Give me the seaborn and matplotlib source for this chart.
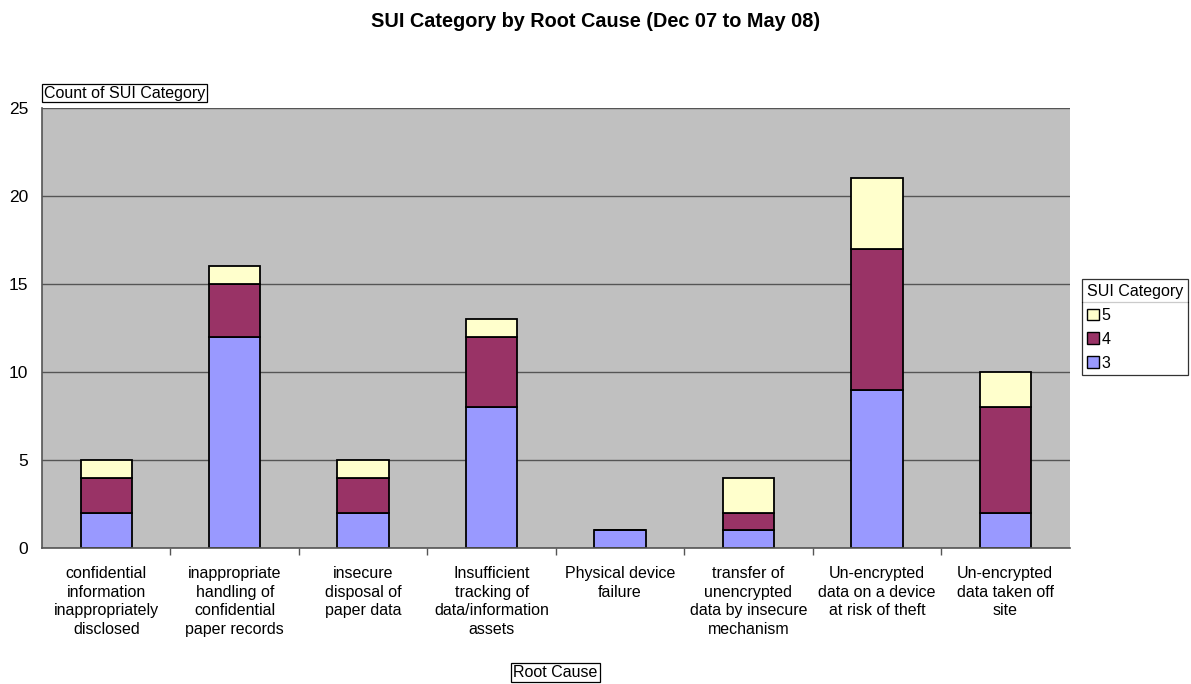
import matplotlib
matplotlib.use("Agg")
import matplotlib.pyplot as plt
from matplotlib.patches import Patch
from matplotlib.lines import Line2D
import numpy as np
import pandas as pd
import seaborn as sns

# Root causes (x categories) and stacked counts per SUI category
root_causes = [
    "confidential\ninformation\ninappropriately\ndisclosed",
    "inappropriate\nhandling of\nconfidential\npaper records",
    "insecure\ndisposal of\npaper data",
    "Insufficient\ntracking of\ndata/information\nassets",
    "Physical device\nfailure",
    "transfer of\nunencrypted\ndata by insecure\nmechanism",
    "Un-encrypted\ndata on a device\nat risk of theft",
    "Un-encrypted\ndata taken off\nsite",
]
cat3 = [2, 12, 2, 8, 1, 1, 9, 2]
cat4 = [2, 3, 2, 4, 0, 1, 8, 6]
cat5 = [1, 1, 1, 1, 0, 2, 4, 2]
series_names = ["3", "4", "5"]
series_colors = ["#9999FF", "#993366", "#FFFFCC"]
y_ticks = [0, 5, 10, 15, 20, 25]

sns.set_theme(style="white")
plt.rcParams["font.family"] = ["Liberation Sans", "DejaVu Sans"]
plt.rcParams["text.color"] = "black"
plt.rcParams["xtick.color"] = "black"
plt.rcParams["ytick.color"] = "black"

FS = 11.5

fig = plt.figure(figsize=(11.91, 6.84), dpi=100)
ax = fig.add_axes([0.0353, 0.199, 0.8627, 0.643])
ax.set_facecolor("#C0C0C0")

df = pd.DataFrame({"cause": root_causes, "3": cat3, "4": cat4, "5": cat5})
bottom = np.zeros(len(root_causes))
for name, color in zip(series_names, series_colors):
    vals = df[name].to_numpy(dtype=float)
    sns.barplot(
        x=df["cause"], y=vals, bottom=bottom,
        color=color, edgecolor="black", linewidth=1.3, width=0.4,
        saturation=1, ax=ax, order=root_causes,
    )
    bottom = bottom + vals

ax.set_xlim(-0.5, len(root_causes) - 0.5)
ax.set_ylim(0, 25)
ax.set_yticks(y_ticks)
ax.yaxis.grid(True, color="#555555", linewidth=1.0)
ax.set_axisbelow(True)

ax.set_xticks(range(len(root_causes)))
ax.set_xticklabels(root_causes, fontsize=FS, color="black", linespacing=1.3)
ax.set_xticks(np.arange(0.5, len(root_causes) - 0.5, 1), minor=True)
ax.tick_params(axis="x", which="major", length=0, pad=13)
ax.tick_params(axis="x", which="minor", length=5, width=1, color="#555555", direction="out")
ax.tick_params(axis="y", which="major", length=5, width=1, color="#555555",
               direction="out", labelsize=12.5, labelcolor="black", pad=5)
ax.tick_params(axis="x", which="both", bottom=True)

for side in ["top", "right"]:
    ax.spines[side].set_visible(False)
for side in ["left", "bottom"]:
    ax.spines[side].set_color("#555555")
    ax.spines[side].set_linewidth(1.2)

ax.set_xlabel("")
ax.set_ylabel("")

fig.text(0.5, 0.969, "SUI Category by Root Cause (Dec 07 to May 08)",
         ha="center", va="center", fontsize=14.3, fontweight="bold")

box = dict(boxstyle="square,pad=0.12", facecolor="white", edgecolor="black", linewidth=0.9)
fig.text(0.037, 0.864, "Count of SUI Category", ha="left", va="center",
         fontsize=FS, bbox=box)
fig.text(0.4665, 0.0165, "Root Cause", ha="center", va="center",
         fontsize=FS, bbox=box)

handles = [Patch(facecolor=c, edgecolor="black", linewidth=1.0, label=n)
           for n, c in zip(series_names[::-1], series_colors[::-1])]
leg = fig.legend(handles=handles, title="SUI Category", loc="upper left",
                 bbox_to_anchor=(0.9085, 0.5915), frameon=True, fancybox=False,
                 fontsize=FS, title_fontsize=FS, handlelength=0.75,
                 handleheight=0.75, handletextpad=0.15, borderpad=0.3,
                 labelspacing=0.55, borderaxespad=0)
leg.get_frame().set_edgecolor("black")
leg.get_frame().set_linewidth(0.9)
leg._legend_box.align = "left"

fig.canvas.draw()
bb = leg.get_window_extent().transformed(fig.transFigure.inverted())
tb = leg.get_title().get_window_extent().transformed(fig.transFigure.inverted())
sep_y = tb.y0 - 0.004
fig.add_artist(Line2D([bb.x0, bb.x1], [sep_y, sep_y], color="black", linewidth=0.9,
                      transform=fig.transFigure))

fig.savefig("out.png", dpi=100, facecolor="white")
